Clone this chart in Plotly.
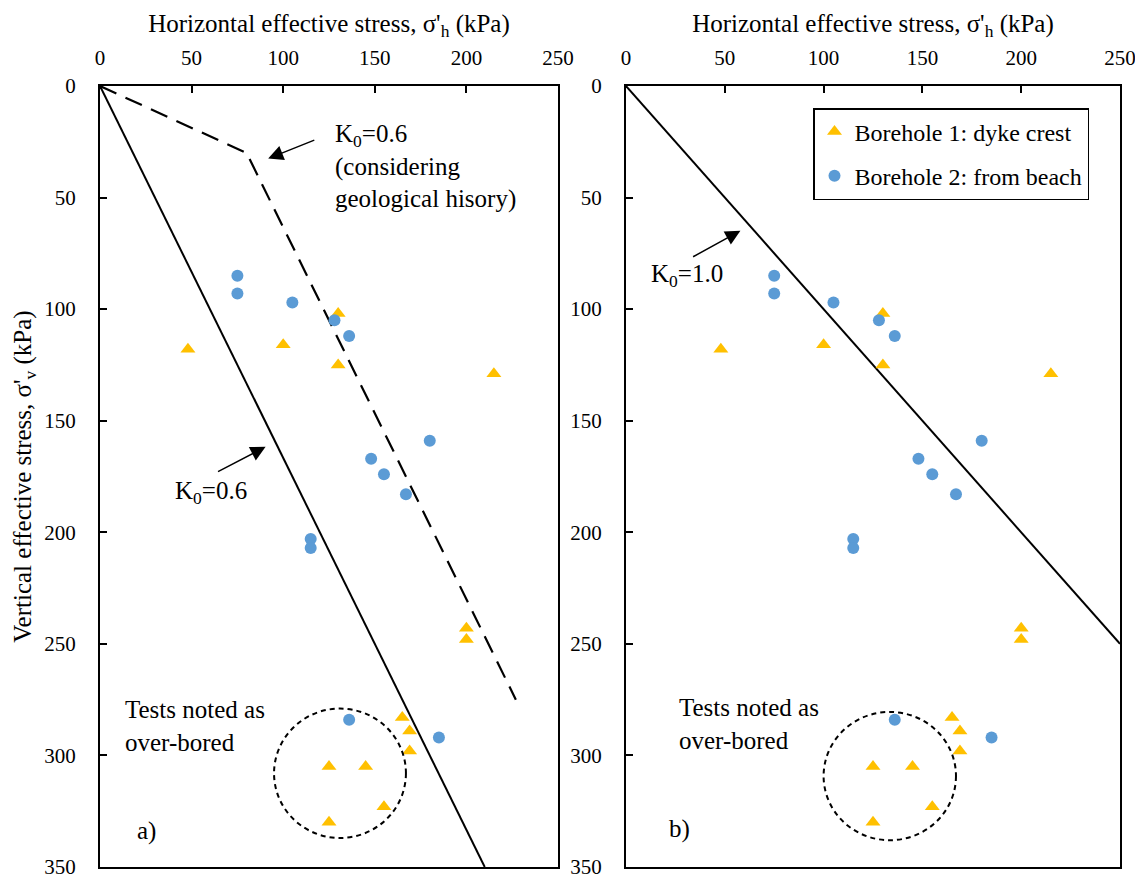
import plotly.graph_objects as go

# ---- data ----
bh1_label = "Borehole 1: dyke crest"
bh1_x = [48, 100, 130, 130, 215, 200, 200, 165, 169, 169, 125, 145, 155, 125]
bh1_y = [118, 116, 102, 125, 129, 243, 248, 283, 289, 298, 305, 305, 323, 330]

bh2_label = "Borehole 2: from beach"
bh2_x = [75, 75, 105, 128, 136, 180, 148, 155, 167, 115, 115, 136, 185]
bh2_y = [85, 93, 97, 105, 112, 159, 167, 174, 183, 203, 207, 284, 292]

k06_x = [0, 210]
k06_y = [0, 350]
hist_x = [0, 80, 227]
hist_y = [0, 30, 275]
k10_x = [0, 250]
k10_y = [0, 250]

x_ticks = [0, 50, 100, 150, 200, 250]
y_ticks = [0, 50, 100, 150, 200, 250, 300, 350]

# ---- styles ----
FONT = "Liberation Serif"
W, H = 1135, 880   # page adds an 8px body margin
BLUE = "#5B9BD5"
ORANGE = "#FFC000"
tri_marker = dict(symbol="triangle-up", size=13, color=ORANGE)
dot_marker = dict(symbol="circle", size=12, color=BLUE)

fig = go.Figure()

# left panel
fig.add_trace(go.Scatter(x=k06_x, y=k06_y, mode="lines", line=dict(color="black", width=2),
                         showlegend=False, xaxis="x", yaxis="y"))
fig.add_trace(go.Scatter(x=hist_x, y=hist_y, mode="lines",
                         line=dict(color="black", width=2.2, dash="18px,10px"),
                         showlegend=False, xaxis="x", yaxis="y"))
fig.add_trace(go.Scatter(x=bh1_x, y=bh1_y, mode="markers", marker=tri_marker,
                         showlegend=False, xaxis="x", yaxis="y"))
fig.add_trace(go.Scatter(x=bh2_x, y=bh2_y, mode="markers", marker=dot_marker,
                         showlegend=False, xaxis="x", yaxis="y"))

# right panel
fig.add_trace(go.Scatter(x=k10_x, y=k10_y, mode="lines", line=dict(color="black", width=2),
                         showlegend=False, xaxis="x2", yaxis="y2"))
fig.add_trace(go.Scatter(x=bh1_x, y=bh1_y, mode="markers", marker=tri_marker, name=bh1_label,
                         legendgroup="g1", xaxis="x2", yaxis="y2"))
fig.add_trace(go.Scatter(x=bh2_x, y=bh2_y, mode="markers", marker=dot_marker, name=bh2_label,
                         legendgroup="g2", xaxis="x2", yaxis="y2"))

ydom = [1 - 859 / H, 1 - 78 / H]
axis_common = dict(showline=True, linecolor="black", linewidth=2, mirror=True,
                   ticks="inside", ticklen=7, tickwidth=2, tickcolor="black",
                   showgrid=False, zeroline=False, ticklabeloverflow="allow",
                   tickfont=dict(family=FONT, size=21, color="black"))
xtitle = dict(text="Horizontal effective stress, σ'<sub>h</sub> (kPa)",
              font=dict(family=FONT, size=25, color="black"), standoff=6)

fig.update_layout(
    width=W, height=H,
    template="none",
    paper_bgcolor="white", plot_bgcolor="white",
    margin=dict(l=0, r=0, t=0, b=0),
    font=dict(family=FONT, size=22, color="black"),
    xaxis=dict(domain=[92 / W, 550 / W], range=[0, 250], side="top", anchor="y",
               tickvals=x_ticks, ticklabelstandoff=11, title=xtitle, **axis_common),
    yaxis=dict(domain=ydom, range=[350, 0], anchor="x", tickvals=y_ticks,
               ticklabelstandoff=18,
               title=dict(text="Vertical effective stress, σ'<sub>v</sub> (kPa)",
                          font=dict(family=FONT, size=25, color="black"), standoff=6),
               **axis_common),
    xaxis2=dict(domain=[618 / W, 1112 / W], range=[0, 250], side="top", anchor="y2",
                tickvals=x_ticks, ticklabelstandoff=11, title=xtitle, **axis_common),
    yaxis2=dict(domain=ydom, range=[350, 0], anchor="x2", tickvals=y_ticks,
                ticklabelstandoff=18, **axis_common),
    legend=dict(x=805 / W, y=1 - 100 / H, xanchor="left", yanchor="top",
                bordercolor="black", borderwidth=1.5, bgcolor="white",
                font=dict(family=FONT, size=24, color="black"),
                tracegroupgap=10, itemwidth=30),
    showlegend=True,
)

# over-bored circles
fig.add_shape(type="circle", xref="x", yref="y", x0=95, x1=167, y0=279, y1=337,
              line=dict(color="black", width=2, dash="5px,4px"))
fig.add_shape(type="circle", xref="x2", yref="y2", x0=100, x1=167, y0=280.5, y1=338,
              line=dict(color="black", width=2, dash="5px,4px"))

afont = dict(family=FONT, size=25, color="black")
arrow = dict(text="", showarrow=True, arrowhead=2, arrowsize=2, arrowwidth=1.5, arrowcolor="black")
ann = [
    dict(x=127, y=36, xref="x", yref="y", xanchor="left", yanchor="middle", align="left",
         text="K<sub>0</sub>=0.6<br>(considering<br>geological hisory)", showarrow=False, font=afont),
    dict(x=91.8, y=32.5, ax=117.8, ay=24, xref="x", yref="y", axref="x", ayref="y", **arrow),
    dict(x=40, y=182, xref="x", yref="y", xanchor="left", yanchor="middle",
         text="K<sub>0</sub>=0.6", showarrow=False, font=afont),
    dict(x=90.4, y=161.7, ax=63.6, ay=173.2, xref="x", yref="y", axref="x", ayref="y", **arrow),
    dict(x=12.7, y=287, xref="x", yref="y", xanchor="left", yanchor="middle", align="left",
         text="Tests noted as<br>over-bored", showarrow=False, font=afont),
    dict(x=19, y=334, xref="x", yref="y", xanchor="left", yanchor="middle",
         text="a)", showarrow=False, font=afont),
    dict(x=11.8, y=85, xref="x2", yref="y2", xanchor="left", yanchor="middle",
         text="K<sub>0</sub>=1.0", showarrow=False, font=afont),
    dict(x=57.9, y=64.9, ax=33.2, ay=76.9, xref="x2", yref="y2", axref="x2", ayref="y2", **arrow),
    dict(x=25.9, y=286, xref="x2", yref="y2", xanchor="left", yanchor="middle", align="left",
         text="Tests noted as<br>over-bored", showarrow=False, font=afont),
    dict(x=20.5, y=333, xref="x2", yref="y2", xanchor="left", yanchor="middle",
         text="b)", showarrow=False, font=afont),
]
fig.update_layout(annotations=ann)

fig.write_html("out.html")
